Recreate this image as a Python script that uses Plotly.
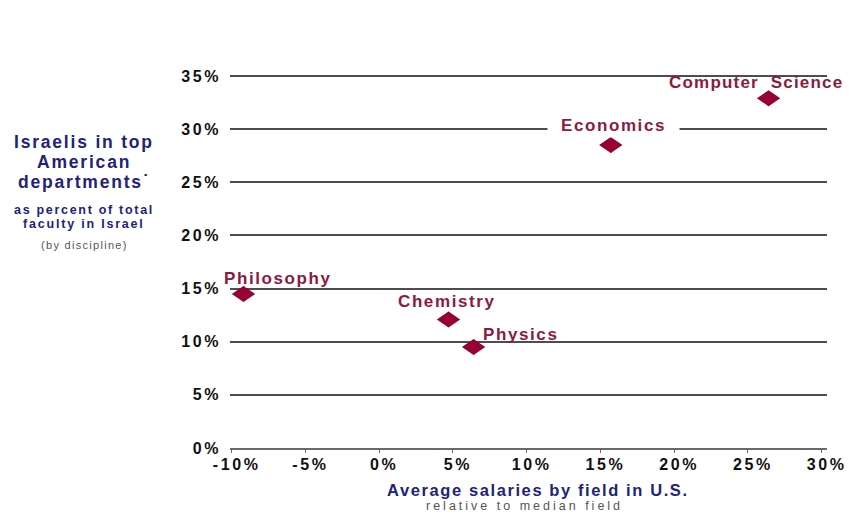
import plotly.graph_objects as go

# ---------------- data ----------------
fields = ["Philosophy", "Chemistry", "Physics", "Economics", "Computer Science"]
salary_rel = [-9.2, 4.7, 6.4, 15.7, 26.4]        # % relative to median field
israeli_share = [14.5, 12.1, 9.5, 28.5, 32.9]    # % of total faculty in Israel
x_ticks = [-10, -5, 0, 5, 10, 15, 20, 25, 30]
y_ticks = [0, 5, 10, 15, 20, 25, 30, 35]

# ---------------- style ----------------
W, H = 849, 516
L, R, T, B = 230, 827, 74, 448
FONT = "Arial, 'Liberation Sans', sans-serif"
NAVY = "#22227a"
RED_MARK = "#990033"
RED_TEXT = "#8c1a3c"
GRAY = "#555555"
GRID = "#4d4d4d"
MARK_HALF_W, MARK_HALF_H = 11.7, 8.0   # flattened diamond glyph (pixels)

# label offsets in pixels (text centre relative to the marker centre)
label_style = {
    "Philosophy": dict(dx=34, dy=15, bg=None, ls=1.6),
    "Chemistry": dict(dx=-2, dy=18, bg=None, ls=1.6),
    "Physics": dict(dx=47, dy=13, bg=None, ls=1.6),
    "Economics": dict(dx=3, dy=20, bg="white", ls=1.6),
    "Computer Science": dict(dx=-13, dy=16, bg=None, ls=1.2),
}


def sp(text, ls):
    return f'<span style="letter-spacing:{ls}px">{text}</span>'


def px(xpix):
    return (xpix - L) / (R - L)


def py(ypix):
    return (B - ypix) / (B - T)


fig = go.Figure()

fig.add_trace(go.Scatter(
    x=salary_rel, y=israeli_share, mode="markers",
    marker=dict(symbol="diamond", size=12, color=RED_MARK, line=dict(width=0)),
    text=fields, hoverinfo="text", showlegend=False, cliponaxis=False))

# flattened diamond glyph, anchored on each data point through the axes
glyph = (f"M{-MARK_HALF_W},0 L0,{MARK_HALF_H} L{MARK_HALF_W},0 "
         f"L0,{-MARK_HALF_H} Z")
shapes = []
for xv, yv in zip(salary_rel, israeli_share):
    shapes.append(dict(
        type="path", xref="x", yref="y",
        xsizemode="pixel", ysizemode="pixel",
        xanchor=xv, yanchor=yv, path=glyph,
        fillcolor=RED_MARK, line=dict(width=0), layer="above"))

annotations = []
for name, xv, yv in zip(fields, salary_rel, israeli_share):
    st = label_style[name]
    txt = name.replace(" ", "\u00a0 ")
    a = dict(x=xv, y=yv, xref="x", yref="y", showarrow=False,
             text="<b>" + sp(txt, st["ls"]) + "</b>",
             font=dict(family=FONT, size=17, color=RED_TEXT),
             xanchor="center", yanchor="middle",
             xshift=st["dx"], yshift=st["dy"])
    if st["bg"]:
        a.update(bgcolor=st["bg"], borderpad=2, width=127)
    annotations.append(a)

# left-hand title block
left_lines = [
    ("Israelis in top", 142, 17.5, True, NAVY, 1.8),
    ("American", 162, 17.5, True, NAVY, 1.8),
    ("departments\u02d9", 182, 17.5, True, NAVY, 1.8),
    ("as percent of total", 210, 12.5, True, NAVY, 1.7),
    ("faculty in Israel", 223.5, 12.5, True, NAVY, 1.8),
    ("(by discipline)", 245, 11, False, GRAY, 1.3),
]
for txt, ypix, size, bold, col, ls in left_lines:
    t = sp(txt, ls)
    if bold:
        t = "<b>" + t + "</b>"
    annotations.append(dict(
        x=px(84), y=py(ypix), xref="paper", yref="paper", showarrow=False,
        text=t, font=dict(family=FONT, size=size, color=col),
        xanchor="center", yanchor="middle"))

# x-axis title block
annotations.append(dict(
    x=px(538), y=py(490), xref="paper", yref="paper", showarrow=False,
    text="<b>" + sp("Average salaries by field in U.S.", 1.6) + "</b>",
    font=dict(family=FONT, size=16.5, color=NAVY),
    xanchor="center", yanchor="middle"))
annotations.append(dict(
    x=px(524), y=py(506), xref="paper", yref="paper", showarrow=False,
    text=sp("relative to median field", 3),
    font=dict(family=FONT, size=12.5, color=GRAY),
    xanchor="center", yanchor="middle"))

fig.update_layout(
    width=W, height=H,
    margin=dict(l=L, r=W - R, t=T, b=H - B, pad=0, autoexpand=False),
    paper_bgcolor="white", plot_bgcolor="white",
    font=dict(family=FONT),
    annotations=annotations,
    shapes=shapes,
    xaxis=dict(
        range=[-10.115, 30.36], showgrid=False, zeroline=False,
        automargin=False,
        showline=True, linecolor="#6a6a6a", linewidth=1.5,
        ticks="outside", ticklen=3, tickwidth=1.2, tickcolor="#6a6a6a",
        tickvals=x_ticks,
        ticktext=[sp(f"{v}%", 2.6) for v in x_ticks],
        tickfont=dict(family=FONT, size=16, color="#111111", weight="bold"),
        ticklabelshift=5, ticklabelstandoff=-2,
        fixedrange=True),
    yaxis=dict(
        range=[0, 35.19], showgrid=True, gridcolor=GRID, gridwidth=1.7,
        zeroline=False, showline=False, automargin=False,
        ticks="", tickvals=y_ticks,
        ticktext=[sp(f"{v}%", 2.6) for v in y_ticks],
        tickfont=dict(family=FONT, size=16, color="#111111", weight="bold"),
        ticklabelstandoff=8,
        fixedrange=True),
)

fig.write_html("out.html")
